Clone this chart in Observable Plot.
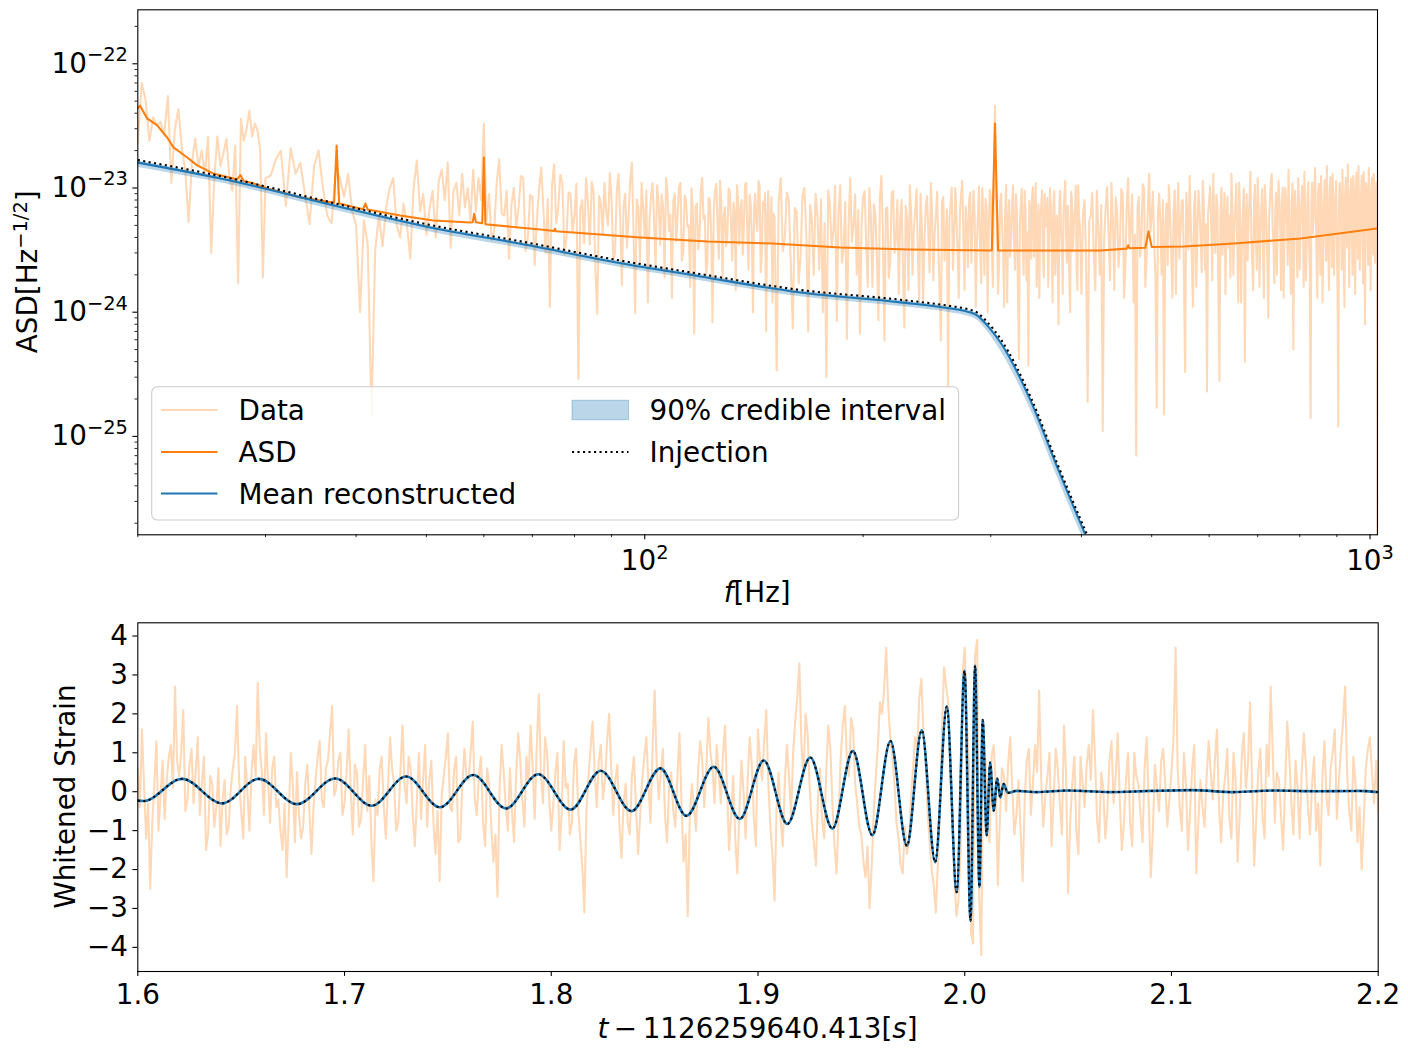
<!DOCTYPE html>
<html><head><meta charset="utf-8">
<script src="https://cdn.jsdelivr.net/npm/d3@7"></script>
<script src="https://cdn.jsdelivr.net/npm/@observablehq/plot@0.6"></script>
<style>
html,body{margin:0;padding:0;background:#fff;overflow:hidden;}
#chart{width:1408px;height:1055px;position:relative;}
#chart svg{display:block;}
</style></head><body><div id="chart"></div>
<script>
// ===== Top panel data: frequency domain =====
// Data |h(f)| as (frequency [Hz], amplitude [Hz^-1/2]) pairs, 20-60 Hz
const dataLow = [
[20,2.3e-23],[20.25,7.0e-23],[20.5,5.1e-23],[20.75,2.4e-23],[21,3.7e-23],[21.25,3.2e-23],[21.5,3.4e-23],[21.75,2.7e-23],[22,5.5e-23],[22.25,1.1e-23],
[22.5,3.0e-23],[22.75,4.3e-23],[23,2.1e-23],[23.25,1.4e-23],[23.5,5.3e-24],[23.75,1.6e-23],[24,2.5e-23],[24.25,1.5e-23],[24.5,2.0e-23],[24.75,1.3e-23],
[25,2.6e-23],[25.25,3.0e-24],[25.5,1.2e-23],[25.75,2.6e-23],[26,1.5e-23],[26.25,1.9e-23],[26.5,2.5e-23],[26.75,1.2e-23],[27,9.5e-24],[27.25,2.2e-23],
[27.5,1.7e-24],[27.75,3.6e-23],[28,2.4e-23],[28.25,3.0e-23],[28.5,4.2e-23],[28.75,2.6e-23],[29,3.3e-23],[29.25,2.9e-23],[29.5,2.0e-23],[29.75,1.9e-24],
[30,1.2e-23]
];
const dataLowMid = [
[30.5,1.26e-23],[31,1.7e-23],[31.5,2.0e-23],[32,7.2e-24],[32.5,2.1e-23],[33,1.3e-23],[33.5,1.6e-23],[34,9.0e-24],[34.5,5.1e-24],[35,1.5e-23],
[35.5,2.0e-23],[36,1.0e-23],[36.5,6.0e-24],[37,5.2e-24],[37.5,1.4e-23],[38,1.2e-23],[38.5,8.5e-24],[39,1.3e-23],[39.5,6.5e-24],[40,5.0e-24],
[40.5,1.0e-24],[41,5.5e-24],[41.5,3.5e-24],[42,1.5e-25],[42.5,3.2e-24],[43,6.0e-24],[43.5,3.4e-24],[44,7.0e-24],[44.5,1.0e-23],[45,1.2e-23],
[45.5,5.0e-24],[46,4.0e-24],[46.5,7.5e-24],[47,5.0e-24],[47.5,2.7e-24],[48,1.0e-23],[48.5,1.66e-23],[49,6.5e-24],[49.5,9.0e-24],[50,4.2e-24],
[50.5,6.8e-24],[51,9.5e-24],[51.5,4.0e-24],[52,1.15e-23],[52.5,1.4e-23],[53,8.0e-24],[53.5,1.6e-23],[54,3.3e-24],[54.5,9.5e-24],[55,1.1e-23],
[55.5,6.0e-24],[56,1.3e-23],[56.5,7.0e-24],[57,1.0e-23],[57.5,5.5e-24],[58,1.4e-23],[58.5,6.5e-24],[59,1.2e-23],[59.5,8.0e-24],[60,3.3e-23],
[60.5,5.5e-24]
];
// Data |h(f)| above 60 Hz, on FFT bins (start, step in Hz); values in units of 1e-24 Hz^-1/2
const SEG_UNIT = 1e-24;
const dataSegC = {start: 61, step: 0.5, values: [
9.0,3.8,4.5,11.0,17.0,6.2,6.0,9.5,2.7,7.4,10.0,4.8,7.0,12.5,12.0,3.1,4.0,8.8,8.5,2.4,
5.5,9.8,14.6,6.6,3.0,8.2,1.1,10.5,15.5,5.2,7.0,12.8,11.0,2.9,4.0,9.2,9.0,4.4,6.0,10.8,
0.29,6.8,8.0,3.6,12.0,7.5,3.5,11.2,9.5,2.2,0.97,8.6,7.5,4.2,11.0,6.4,5.0,13.2,8.0,2.6,
3.0,9.4,13.0,5.8,1.65,7.2,9.0,3.3,6.0,11.8,16.0,4.6,0.98,8.1,7.0,2.5,11.0,6.9,4.0,9.6,
1.2,5.4,8.5,10.9,5.5,2.3,10.5,7.7,3.5,8.9,7.0,1.9,12.0,9.3,4.5,6.1,1.3,7.9,9.0,3.7,
6.0,10.2,11.0,2.6,3.0,8.7,8.0,4.9,5.0,1.6,10.0,6.3,0.67,7.1,7.5,3.2,4.0,9.7,12.0,5.6,
6.0,2.0,2.5,8.3,8.0,4.1,0.83,6.6,9.5,10.8,5.0,2.7,11.5,7.3,1.8,5.9,7.0,3.4,4.0,9.9,
9.5,5.2,2.6,7.6,6.5,1.5,10.5,8.2,3.5,6.7,8.0,2.9,5.0,10.6,11.0,4.3,2.2,8.8,7.5,3.9,
1.0,6.8,9.0,5.3,4.5,11.4,10.5,2.1,3.0,7.7,6.5,9.1,0.7,5.6,9.5,3.6,4.0,8.4,1.2,6.2
]};
const dataSegD = {start: 151, step: 1, values: [
5.8,0.34,7.9,12.0,3.1,4.0,9.2,8.0,2.4,0.74,
6.9,6.5,1.7,2.8,8.7,10.0,4.4,0.7,7.3,5.5,
2.0,9.0,6.1,2.2,8.1,1.0,5.2,0.3,9.6,7.5,
3.3,4.5,10.4,0.85,6.4,10.5,2.5,3.2,7.7,0.61,
5.0,12.0,3.7,5.0,8.9,2.0,6.6,0.67,4.8,8.5,
9.4,3.5,1.6,10.0,5.9,1.6,7.4,6.0,2.7,0.86,
8.3,12.5,4.2,0.59,6.8,7.0,1.9,2.5,9.1,9.5,
3.0,4.0,8.0,1.4,5.7,8.0,2.3,0.75,7.2,5.5,
1.5,10.5,6.3,2.0,4.7,6.5,9.8,3.0,1.2,9.0,
5.1,1.2,3.6,7.0,8.6,4.5,2.1,11.0,6.2,1.8,
4.3,6.0,9.3,3.5,1.4,0.59,7.8,8.5,2.6,4.0,
6.7,0.25,5.3,7.5,10.1,2.2,3.9,10.0,6.0,3.0,
1.3,6.5,8.8,11.5,4.1,1.5,7.1,5.0,2.3,8.0,
9.2,2.5,4.6,9.5,6.2,1.1,3.4,6.0,10.3,3.5,
1.7,10.0,5.6,2.0,8.2,7.0,1.0,4.5,9.7,8.5,
3.2,1.6,12.0,46.0,9.0,5.5,1.4,2.5,7.6,9.0,
4.8,3.0,1.1,6.5,10.6,1.2,5.4,8.0,2.8,4.0,
7.3,10.5,3.7,2.2,8.9,6.0,1.5,0.42,5.1,7.5,
9.9,3.5,2.0,9.5,6.6,1.8,4.4,0.37,7.9,6.5,
2.7,8.5,10.2,2.8,5.3,11.0,1.6,4.5,7.4,1.3,
6.1,7.0,9.6,3.0,1.9,9.0,4.9,5.5,8.3,1.6,
3.8,10.0,6.8,4.0,1.2,7.5,9.4,2.0,5.0,6.0,
2.4,0.8,7.7,9.5,4.6,3.5,1.4,6.5,8.8,11.5,
4.2,2.5,7.2,5.0,1.7,1.0,9.3,8.5,3.1,4.0,
6.3,7.0,10.4,2.2,1.5,10.5,5.8,5.0,2.9,1.4
]};
const dataSegE = {start: 402, step: 2, values: [
6.2,8.0,2.6,0.19,5.4,6.0,9.1,3.0,1.5,9.5,
4.7,2.0,7.3,0.11,3.9,7.0,10.2,4.5,1.8,11.0,
5.6,1.5,8.4,6.5,2.3,3.5,9.8,9.0,1.3,2.5,
7.6,12.0,3.3,5.0,8.9,1.2,4.2,0.07,6.9,8.5,
2.8,4.0,10.7,10.0,1.6,2.8,7.1,13.0,4.4,6.0,
9.3,3.5,1.9,0.17,6.4,9.0,5.2,2.0,8.0,0.15,
4.9,7.5,2.4,10.5,6.1,3.0,1.3,6.5,9.6,1.4,
5.8,11.0,2.7,4.5,7.9,8.0,1.7,0.33,9.2,6.0,
3.2,12.5,5.5,2.5,1.1,7.0,9.4,1.6,4.3,9.5,
6.8,4.0,2.1,11.5,7.3,2.2,5.1,0.23,6.2,8.0,
10.3,5.0,1.8,13.0,4.6,3.0,8.8,7.5,1.4,0.28,
6.6,10.0,2.9,4.5,9.2,1.4,5.7,8.5,3.3,6.0,
1.9,13.0,7.0,2.0,4.8,7.0,10.8,3.5,1.2,11.0,
6.3,1.2,3.6,6.5,9.9,0.4,5.2,9.0,2.6,5.5,
8.1,13.5,4.0,2.5,1.5,8.0,10.6,4.0,2.2,12.0,
6.9,1.6,4.4,7.0,9.8,3.0,1.3,10.5,7.2,5.0,
2.3,0.9,6.0,8.5,11.3,13.0,4.9,3.5,1.7,6.5,
9.2,2.0,5.3,11.5,7.8,4.5,1.5,7.5,10.1,1.3,
3.8,10.0,8.4,6.0,2.4,14.0,5.6,2.8,1.4,8.0,
10.9,0.5,4.1,9.5,6.7,4.0,1.9,12.0,8.2,2.2,
5.0,7.0,10.4,5.5,1.6,13.5,6.1,1.8,3.7,8.5,
11.2,3.5,2.1,0.14,7.4,11.0,4.3,6.0,9.7,14.5,
5.9,2.5,1.3,9.0,10.8,4.5,2.0,12.5,7.1,1.2,
3.4,7.5,11.6,5.0,2.6,15.0,6.6,3.0,1.5,9.5,
12.2,6.0,2.3,13.0,7.9,2.0,4.7,8.0,11.4,4.0,
1.6,0.12,6.4,11.0,8.8,5.5,2.2,14.0,7.0,2.5,
1.1,9.0,12.0,6.5,3.3,15.5,8.0,1.6,4.6,8.5,
11.8,4.5,2.0,12.5,9.1,3.0,1.4,10.0,13.4,7.0,
2.7,15.0,6.2,2.2,4.9,9.0,12.6,5.0,1.7,13.5,
8.6,0.8,3.9,11.0,9.8,6.5,2.4,14.5,7.6,3.5,
1.5,9.5,12.1,5.5,2.9,13.0,8.3,2.5,4.4,11.0,
7.2,0.001
]};
// Detector ASD (frequency [Hz], amplitude)
const asdCurve = [
[20,4.4e-23],[20.15,4.6e-23],[20.6,3.63e-23],[21.27,3.19e-23],[21.95,2.55e-23],[22.4,2.12e-23],[23.4,1.76e-23],[24.15,1.52e-23],[25.4,1.31e-23],[27.1,1.19e-23],
[27.4,1.17e-23],[27.7,1.27e-23],[28.0,1.14e-23],[28.85,1.09e-23],[30.2,9.9e-24],[33.5,8.4e-24],[37.3,7.6e-24],[37.6,2.2e-23],[37.9,7.5e-24],[40.9,6.75e-24],
[41.2,7.5e-24],[41.5,6.7e-24],[46,6.0e-24],[51.1,5.47e-24],[57.5,5.27e-24],[57.9,5.3e-24],[58.2,6.2e-24],[58.5,5.3e-24],[59.7,5.2e-24],[60,1.76e-23],
[60.3,5.1e-24],[60.7,5.08e-24],[71.8,4.63e-24],[75,4.5e-24],[75.2,4.7e-24],[75.4,4.48e-24],[79.7,4.38e-24],[98.6,4.0e-24],[122,3.71e-24],[150,3.57e-24],
[186,3.32e-24],[232,3.2e-24],[301,3.14e-24],[304,3.3e-23],[307,3.14e-24],[425,3.14e-24],[462,3.25e-24],[464,3.45e-24],[466,3.27e-24],[490,3.3e-24],
[495,4.47e-24],[500,3.35e-24],[553,3.38e-24],[649,3.57e-24],[802,3.92e-24],[1024,4.72e-24]
];
// Reconstructed signal spectrum
const sigFreq = [20, 26.8, 36.8, 50.6, 69.5, 86.8, 119.3, 163.9, 225.2, 264, 278.6, 287.5, 296.8, 309.4, 340.3, 370.7, 405.3, 438.7];
const sigMean = [1.60e-23, 1.149e-23, 7.36e-24, 4.81e-24, 3.44e-24, 2.66e-24, 1.94e-24, 1.44e-24, 1.20e-24, 1.07e-24, 1.01e-24, 9.4e-25, 7.8e-25, 5.7e-25, 1.95e-25, 5.6e-26, 1.61e-26, 5.8e-27];
const sigLow  = [1.47e-23, 1.06e-23, 6.78e-24, 4.43e-24, 3.17e-24, 2.45e-24, 1.79e-24, 1.33e-24, 1.11e-24, 9.9e-25, 9.3e-25, 8.6e-25, 7.0e-25, 4.9e-25, 1.65e-25, 4.7e-26, 1.35e-26, 4.9e-27];
const sigHigh = [1.65e-23, 1.18e-23, 7.58e-24, 4.95e-24, 3.54e-24, 2.74e-24, 2.0e-24, 1.48e-24, 1.24e-24, 1.10e-24, 1.04e-24, 9.7e-25, 8.1e-25, 5.9e-25, 2.02e-25, 5.8e-26, 1.67e-26, 6.0e-27];
const sigInj  = [1.68e-23, 1.20e-23, 7.7e-24, 5.04e-24, 3.6e-24, 2.79e-24, 2.03e-24, 1.51e-24, 1.26e-24, 1.12e-24, 1.06e-24, 9.9e-25, 8.3e-25, 6.1e-25, 2.09e-25, 6.0e-26, 1.73e-26, 6.2e-27];

// ===== Bottom panel data: whitened strain, sampled every 1 ms from t = 1.600 s =====
const strainStart = 1.6, strainStep = 0.001;
const strainValues = [
0.6,-0.4,1.6,0.2,-1.2,-0.3,-2.5,-0.8,0.2,1.3,-1.0,-0.1,0.8,-0.7,0.3,0.9,1.2,0.1,2.7,0.8,
0.4,1.0,2.1,-0.5,-0.2,0.7,1.1,-0.3,0.5,1.4,-0.6,0.2,0.9,-1.5,-1.1,0.4,0.2,-0.9,-0.4,0.6,
-1.4,-0.2,0.3,-1.1,-0.9,0.1,0.6,1.0,2.2,0.3,-0.5,-1.2,0.9,0.0,-1.0,0.5,1.2,0.4,2.8,1.1,
0.5,-0.6,1.5,0.3,-0.8,0.6,0.9,-0.4,-0.2,-1.0,-1.5,-0.3,-2.2,-0.7,1.0,0.2,-1.3,0.5,-0.6,-1.2,
-0.9,0.2,0.7,-0.5,-1.6,-0.4,0.3,0.9,1.3,-0.2,-0.4,0.6,0.8,1.5,2.2,-0.1,0.1,0.8,1.0,-0.6,
-0.3,0.5,1.6,0.0,-1.1,0.7,0.5,-0.9,-0.7,0.3,1.2,-0.5,0.4,-1.3,-2.3,-0.2,-0.6,0.6,0.9,-0.4,
-1.2,0.1,1.4,0.6,0.2,-1.0,-0.8,0.5,1.7,0.2,-0.3,0.9,0.6,-0.6,-1.4,-0.2,1.0,-0.7,0.3,1.2,
-0.9,0.3,0.8,-0.8,-1.6,-0.5,-2.3,-0.1,0.4,0.9,1.5,-0.4,-0.5,0.6,0.9,-1.3,-1.2,0.2,1.1,0.4,
0.3,1.0,1.8,-0.2,-0.6,0.4,0.9,-0.8,-1.4,0.6,0.2,-0.9,-1.8,-1.1,-2.7,0.1,1.2,0.5,-0.4,-1.0,
0.6,-0.5,-1.3,0.4,1.5,0.8,-0.2,-0.9,0.9,0.2,1.7,0.6,-0.7,1.2,2.5,0.4,-0.3,1.4,1.0,-0.2,
-1.0,-0.3,0.5,1.0,-1.5,-0.6,1.3,0.1,0.2,-1.1,-0.8,0.7,1.1,-0.4,-1.2,-1.9,-3.1,-0.5,0.4,1.1,
1.8,0.5,-0.4,0.8,1.2,-0.2,0.3,1.3,2.0,0.6,-0.6,0.3,0.7,-0.9,-1.7,-0.3,0.2,-0.8,-1.1,0.4,
0.9,-0.4,-1.6,-0.6,0.3,0.9,1.4,0.2,-0.8,1.1,2.6,0.7,-0.2,0.5,1.1,-0.6,-1.3,0.1,0.5,-0.5,
-0.9,0.4,1.5,-0.3,-1.8,-1.1,-3.2,-0.7,0.2,-0.4,-1.0,0.5,1.3,0.8,-0.4,0.6,1.9,1.0,0.6,-0.3,
1.2,0.5,-0.3,0.9,1.7,0.1,-1.5,-0.6,0.4,-1.2,-2.1,-0.5,0.8,0.0,-1.2,0.3,1.4,0.7,-0.7,-1.4,
1.6,0.8,0.3,1.3,2.1,0.2,-0.9,-1.6,-2.8,-0.4,0.5,-0.8,-1.4,0.3,1.2,0.4,-0.6,1.0,1.8,2.4,
3.3,1.2,0.4,2.0,1.5,0.1,-0.8,-1.3,-1.9,-0.2,0.6,-0.7,-1.2,0.5,1.7,1.1,-0.3,-1.4,-2.1,-0.6,
0.9,1.7,2.2,0.8,0.4,1.9,1.6,0.2,-0.3,-0.9,-1.1,-1.8,-2.2,-1.4,-3.0,-1.9,-0.5,0.4,1.2,2.3,
2.0,2.6,3.7,2.2,1.4,0.9,0.2,-0.8,-1.2,-1.9,-2.1,-0.9,-1.6,-1.3,-0.2,0.6,1.4,1.1,2.4,2.9,
1.6,0.9,-0.5,-1.3,-2.0,-2.4,-3.1,-1.9,-0.4,1.6,3.2,2.7,2.3,0.5,-0.6,-2.2,-3.2,-2.8,-1.5,3.1,
3.7,1.8,0.8,-3.6,-3.9,3.5,3.9,-2.7,-4.2,1.6,0.9,-1.0,-1.3,0.9,1.2,0.2,-2.4,-0.7,0.6,0.4,
-0.5,0.7,1.4,0.1,-1.1,-0.6,0.3,-1.0,-2.3,-0.2,0.8,1.1,-0.6,0.2,1.2,0.5,2.6,0.3,-0.9,-0.1,
0.4,1.0,-1.4,-0.2,1.1,0.6,-0.3,-1.1,1.7,0.5,-2.6,-0.8,0.2,0.9,-1.0,-1.6,0.9,0.2,-0.4,0.7,
1.2,0.3,2.1,0.9,-0.7,-1.3,0.5,0.1,-1.2,-0.5,0.8,1.3,-0.3,0.4,1.5,-0.2,-1.5,-0.8,0.3,1.0,
-0.8,-1.4,1.0,0.4,0.2,-0.6,-1.3,0.6,1.4,-0.3,-2.2,-1.0,0.7,0.1,-0.5,0.8,1.1,0.2,-0.9,-0.2,
0.5,1.4,3.7,0.6,-0.4,-1.0,1.0,0.2,-1.5,-0.5,0.6,1.2,-2.1,-0.8,0.3,-0.4,-0.9,0.4,1.3,0.5,
-0.2,0.8,1.6,-0.4,-1.3,-0.1,0.4,1.1,-0.7,-1.2,1.0,0.3,-1.8,-0.6,0.9,1.5,0.1,0.7,2.3,0.2,
-1.9,-0.7,0.5,1.1,-0.6,-1.2,1.2,0.4,2.7,1.0,-0.8,0.5,0.3,-0.6,-1.5,0.2,1.8,0.9,-0.3,-1.1,
0.8,0.1,-1.2,0.5,1.5,0.7,-0.4,-1.1,0.2,0.9,-1.0,-0.3,-1.9,0.4,1.3,-0.2,-0.6,0.6,1.0,1.6,
-0.7,0.3,1.1,1.8,2.7,0.4,-0.5,-1.0,0.9,0.2,-1.3,-0.4,-2.0,-0.8,0.6,1.1,1.4,0.5,-0.3,0.8,
-0.5
];
// Waveform extrema (time, whitened strain): mean reconstruction and injection
const waveMean = [
[1.600,-0.23],[1.6028,-0.24],[1.6214,0.33],[1.6408,-0.30],[1.6585,0.33],[1.677,-0.32],[1.6955,0.34],[1.7132,-0.36],[1.7298,0.39],[1.7462,-0.40],
[1.7623,0.43],[1.7781,-0.43],[1.7937,0.45],[1.8094,-0.46],[1.8239,0.54],[1.8388,-0.50],[1.8528,0.60],[1.8654,-0.62],[1.8786,0.64],[1.8912,-0.70],
[1.9028,0.80],[1.9142,-0.83],[1.9253,0.88],[1.936,-0.95],[1.9459,1.05],[1.9553,-1.12],[1.9641,1.30],[1.972,-1.39],[1.9792,1.58],[1.9857,-1.81],
[1.9913,2.19],[1.9961,-2.58],[1.9999,3.11],[2.0028,-3.32],[2.005,3.24],[2.0071,-2.45],[2.0087,1.84],[2.0106,-1.12],[2.0123,0.75],[2.014,-0.49],
[2.0157,0.34],[2.0172,-0.15],[2.0188,0.20],[2.0208,-0.03],[2.025,0.02],[2.035,-0.01],[2.05,0.03],[2.07,-0.01],[2.09,0.02],[2.11,0.04],
[2.13,-0.01],[2.15,0.03],[2.17,0.01],[2.19,0.02],[2.2,-0.01]
];
const waveInjection = [
[1.600,-0.23],[1.6028,-0.24],[1.6214,0.33],[1.6408,-0.30],[1.6585,0.33],[1.677,-0.32],[1.6955,0.34],[1.7132,-0.36],[1.7298,0.39],[1.7462,-0.40],
[1.7623,0.43],[1.7781,-0.43],[1.7937,0.45],[1.8094,-0.46],[1.8239,0.54],[1.8388,-0.50],[1.8528,0.60],[1.8654,-0.62],[1.8786,0.64],[1.8912,-0.70],
[1.9028,0.80],[1.9142,-0.83],[1.9253,0.88],[1.936,-0.95],[1.9459,1.05],[1.9553,-1.12],[1.9641,1.30],[1.972,-1.39],[1.9792,1.58],[1.9857,-1.81],
[1.9913,2.19],[1.9961,-2.58],[1.9999,3.11],[2.0028,-3.32],[2.005,3.24],[2.0071,-2.45],[2.0087,1.84],[2.0106,-1.12],[2.0123,0.75],[2.014,-0.49],
[2.0157,0.34],[2.0172,-0.15],[2.0188,0.20],[2.0208,-0.03],[2.025,0.02],[2.035,-0.01],[2.05,0.03],[2.07,-0.01],[2.09,0.02],[2.11,0.04],
[2.13,-0.01],[2.15,0.03],[2.17,0.01],[2.19,0.02],[2.2,-0.01]
];

// ===== Ticks & labels =====
const fMajorTicks = [100, 1000];
const fMajorLabels = ["10^2", "10^3"];
const fMinorTicks = [20,30,40,50,60,70,80,90,200,300,400,500,600,700,800,900];
const asdMajorTicks = [1e-25, 1e-24, 1e-23, 1e-22];
const asdMajorLabels = ["10^\u221225", "10^\u221224", "10^\u221223", "10^\u221222"];
const asdMinorTicks = [2e-26,3e-26,4e-26,5e-26,6e-26,7e-26,8e-26,9e-26,
  2e-25,3e-25,4e-25,5e-25,6e-25,7e-25,8e-25,9e-25,
  2e-24,3e-24,4e-24,5e-24,6e-24,7e-24,8e-24,9e-24,
  2e-23,3e-23,4e-23,5e-23,6e-23,7e-23,8e-23,9e-23, 2e-22];
const tTicks = [1.6, 1.7, 1.8, 1.9, 2.0, 2.1, 2.2];
const tLabels = ["1.6", "1.7", "1.8", "1.9", "2.0", "2.1", "2.2"];
const hTicks = [-4, -3, -2, -1, 0, 1, 2, 3, 4];
const hLabels = ["\u22124", "\u22123", "\u22122", "\u22121", "0", "1", "2", "3", "4"];
const legendLabels = ["Data", "ASD", "Mean reconstructed", "90% credible interval", "Injection"];

// ===== Styles =====
const FS = 27.8;
const C_DATA = "#ffd9b7", C_ASD = "#ff7f0e", C_BLUE = "#1f77b4";
const LW = 2.08;
const DOT = "2.1 3.4";

const specRows = [
  ...dataLow.map(([f, v]) => ({f, v})),
  ...dataLowMid.map(([f, v]) => ({f, v})),
  ...[dataSegC, dataSegD, dataSegE].flatMap(s => s.values.map((v, i) => ({f: s.start + i * s.step, v: v * SEG_UNIT})))
];
const asdRows = asdCurve.map(([f, v]) => ({f, v}));
const sigRows = sigFreq.map((f, i) => ({f, mean: sigMean[i], lo: sigLow[i], hi: sigHigh[i], inj: sigInj[i]}));
const strainRows = strainValues.map((h, i) => ({t: strainStart + i * strainStep, h}));
const meanRows = waveMean.map(([t, h]) => ({t, h}));
const injRows = waveInjection.map(([t, h]) => ({t, h}));

const mapF = new Map(fMajorTicks.map((v, i) => [v, fMajorLabels[i]]));
const mapA = new Map(asdMajorTicks.map((v, i) => [v, asdMajorLabels[i]]));
const mapT = new Map(tTicks.map((v, i) => [v, tLabels[i]]));
const mapH = new Map(hTicks.map((v, i) => [v, hLabels[i]]));

const baseStyle = {fontFamily: "DejaVu Sans", fontSize: FS + "px", color: "black", background: "white", overflow: "visible"};

const topChart = Plot.plot({
  width: 1408, height: 610,
  marginLeft: 137.3, marginRight: 31, marginTop: 9.3, marginBottom: 75.7,
  style: baseStyle,
  x: {type: "log", domain: [20, 1024]},
  y: {type: "log", domain: [1.614e-26, 2.72e-22]},
  marks: [
    Plot.line(specRows, {x: "f", y: "v", stroke: C_DATA, strokeWidth: LW, clip: true}),
    Plot.line(asdRows, {x: "f", y: "v", stroke: C_ASD, strokeWidth: LW, clip: true}),
    Plot.areaY(sigRows, {x: "f", y1: "lo", y2: "hi", fill: C_BLUE, fillOpacity: 0.3, curve: "monotone-x", clip: true}),
    Plot.line(sigRows, {x: "f", y: "mean", stroke: C_BLUE, strokeWidth: LW, curve: "monotone-x", clip: true}),
    Plot.line(sigRows, {x: "f", y: "inj", stroke: "black", strokeWidth: LW, strokeDasharray: DOT, strokeLinecap: "butt", curve: "monotone-x", clip: true}),
    Plot.frame({stroke: "black", strokeWidth: 1.1}),
    Plot.axisX({ticks: fMinorTicks, tickSize: 2.8, strokeWidth: 0.85, tickFormat: () => "", label: null}),
    Plot.axisX({ticks: fMajorTicks, tickSize: 4.9, strokeWidth: 1.1, tickPadding: 11, tickFormat: d => mapF.get(d), label: null}),
    Plot.axisY({ticks: asdMinorTicks, tickSize: 2.8, strokeWidth: 0.85, tickFormat: () => "", label: null}),
    Plot.axisY({ticks: asdMajorTicks, tickSize: 4.9, strokeWidth: 1.1, tickPadding: 4.9, tickFormat: d => mapA.get(d), label: null})
  ]
});

const bottomChart = Plot.plot({
  width: 1408, height: 445,
  marginLeft: 137.3, marginRight: 30.3, marginTop: 12.3, marginBottom: 84,
  style: baseStyle,
  x: {domain: [1.6, 2.2]},
  y: {domain: [-4.62, 4.34]},
  marks: [
    Plot.line(strainRows, {x: "t", y: "h", stroke: C_DATA, strokeWidth: LW, clip: true}),
    Plot.line(meanRows, {x: "t", y: "h", stroke: C_BLUE, strokeWidth: 2.6, curve: "monotone-x", clip: true}),
    Plot.line(injRows, {x: "t", y: "h", stroke: "black", strokeWidth: LW, strokeDasharray: DOT, strokeLinecap: "butt", curve: "monotone-x", clip: true}),
    Plot.frame({stroke: "black", strokeWidth: 1.1}),
    Plot.axisX({ticks: tTicks, tickSize: 4.9, strokeWidth: 1.1, tickPadding: 8, tickFormat: d => mapT.get(d), label: null}),
    Plot.axisY({ticks: hTicks, tickSize: 4.9, strokeWidth: 1.1, tickPadding: 4.9, tickFormat: d => mapH.get(d), label: null})
  ]
});

const root = document.getElementById("chart");
root.appendChild(topChart);
root.appendChild(bottomChart);

// Superscript tick labels (10^n)
function supify(svg, raise) {
  d3.select(svg).selectAll('g[aria-label$="tick label"] text').each(function () {
    const s = this.textContent;
    const k = s.indexOf("^");
    if (k < 0) return;
    const sel = d3.select(this);
    sel.text(null);
    sel.append("tspan").text(s.slice(0, k));
    sel.append("tspan").attr("dy", -raise).attr("font-size", (FS * 0.7) + "px").text(s.slice(k + 1));
  });
}
supify(topChart, 11.5);

// Axis titles (top)
const st = d3.select(topChart);
const xl = st.append("text").attr("x", 757.2).attr("y", 602).attr("text-anchor", "middle")
  .attr("font-family", "DejaVu Sans").attr("font-size", FS + "px").attr("fill", "black");
xl.append("tspan").attr("font-style", "italic").text("f");
xl.append("tspan").text("[Hz]");

const yl = st.append("text").attr("transform", "translate(36.5,271.8) rotate(-90)").attr("text-anchor", "middle")
  .attr("font-family", "DejaVu Sans").attr("font-size", FS + "px").attr("fill", "black");
yl.append("tspan").text("ASD[Hz");
yl.append("tspan").attr("dy", -10).attr("font-size", (FS * 0.7) + "px").text("\u22121/2");
yl.append("tspan").attr("dy", 10).text("]");

// Legend
const lg = st.append("g").attr("font-family", "DejaVu Sans").attr("font-size", FS + "px");
lg.append("rect").attr("x", 151.7).attr("y", 386.7).attr("width", 806.9).attr("height", 133.3).attr("rx", 5.5)
  .attr("fill", "white").attr("fill-opacity", 0.8).attr("stroke", "#cccccc").attr("stroke-width", 1.1);
const rowsY = [410, 452, 493.5];
const col1 = 161, col2 = 572, hw = 56.5;
lg.append("line").attr("x1", col1).attr("x2", col1 + hw).attr("y1", rowsY[0]).attr("y2", rowsY[0]).attr("stroke", C_DATA).attr("stroke-width", LW);
lg.append("line").attr("x1", col1).attr("x2", col1 + hw).attr("y1", rowsY[1]).attr("y2", rowsY[1]).attr("stroke", C_ASD).attr("stroke-width", LW);
lg.append("line").attr("x1", col1).attr("x2", col1 + hw).attr("y1", rowsY[2]).attr("y2", rowsY[2]).attr("stroke", C_BLUE).attr("stroke-width", LW);
lg.append("rect").attr("x", col2).attr("y", rowsY[0] - 9.7).attr("width", hw).attr("height", 19.4)
  .attr("fill", C_BLUE).attr("fill-opacity", 0.3).attr("stroke", C_BLUE).attr("stroke-opacity", 0.3).attr("stroke-width", 1.1);
lg.append("line").attr("x1", col2).attr("x2", col2 + hw).attr("y1", rowsY[1]).attr("y2", rowsY[1]).attr("stroke", "black")
  .attr("stroke-width", LW).attr("stroke-dasharray", DOT);
const textPos = [[238.5, 0], [238.5, 1], [238.5, 2], [649.5, 0], [649.5, 1]];
legendLabels.forEach((lab, i) => {
  lg.append("text").attr("x", textPos[i][0]).attr("y", rowsY[textPos[i][1]] + 10.2)
    .attr("text-anchor", "start").attr("fill", "black").text(lab);
});

// Axis titles (bottom)
const sb = d3.select(bottomChart);
const bx = sb.append("text").attr("x", 757.5).attr("y", 428).attr("text-anchor", "middle")
  .attr("font-family", "DejaVu Sans").attr("font-size", FS + "px").attr("fill", "black");
bx.append("tspan").attr("font-style", "italic").text("t");
bx.append("tspan").text("\u2009\u2212\u20091126259640.413[");
bx.append("tspan").attr("font-style", "italic").text("s");
bx.append("tspan").text("]");
sb.append("text").attr("transform", "translate(75,186.6) rotate(-90)").attr("text-anchor", "middle")
  .attr("font-family", "DejaVu Sans").attr("font-size", FS + "px").attr("fill", "black").text("Whitened Strain");
</script>
</body></html>
